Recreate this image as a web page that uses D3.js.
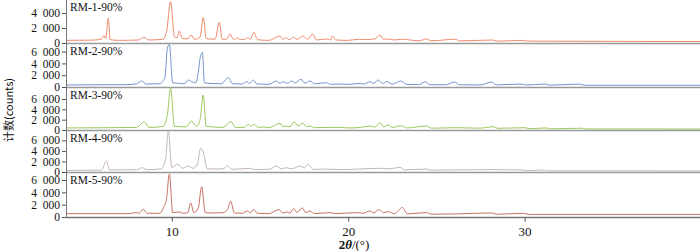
<!DOCTYPE html>
<html><head><meta charset="utf-8">
<script src="https://cdn.jsdelivr.net/npm/d3@7"></script>
<style>
html,body{margin:0;padding:0;background:#fff;}
svg{display:block;}
</style></head>
<body>
<svg id="chart" width="700" height="251"></svg>
<script>
// ---------- data ----------
const seriesNames = ["RM-1-90%","RM-2-90%","RM-3-90%","RM-4-90%","RM-5-90%"];
const xTicks = [10,20,30];
const yTicks1 = [0,2000,4000];
const yTicksN = [0,2000,4000,6000];

const rm1X = [4.0,5.5,6.0,6.15,6.25,6.4,6.5,7.0,8.1,8.42,8.7,9.5,9.7,9.93,10.15,10.3,10.42,10.6,10.9,11.09,11.3,11.6,11.78,11.95,12.16,12.45,12.69,12.85,13.1,13.3,13.5,13.7,13.9,14.1,14.28,14.45,14.66,14.85,15.5,16.13,16.3,16.45,16.65,16.89,17.1,17.45,17.7,17.98,18.2,18.78,19.0,19.1,19.3,20.0,20.6,21.0,21.5,21.8,22.0,22.27,22.6,23.0,24.0,24.45,24.7,26.1,26.3,28.2,28.4,29.2,29.8,30.2,40.0];
const rm1Y = [350,380,500,1000,600,3300,450,350,400,760,400,500,1500,5500,800,700,1600,600,550,1070,500,800,3400,600,530,500,2750,500,500,1200,450,650,450,450,700,500,1420,450,350,930,500,700,450,760,500,930,500,1200,400,530,400,930,400,350,500,450,550,1060,500,530,400,500,300,530,300,500,280,400,250,300,350,250,200];

const rm2X = [4.0,7.5,8.0,8.29,8.55,9.3,9.6,9.75,9.86,10.05,10.42,10.7,10.94,11.12,11.35,11.5,11.6,11.73,11.85,12.1,12.8,13.2,13.45,14.0,14.24,14.4,14.62,14.8,15.5,15.94,16.1,16.32,16.55,16.79,17.0,17.32,17.55,17.83,18.1,18.78,19.0,19.5,20.1,20.57,20.9,21.23,21.45,21.7,21.95,22.18,22.5,22.99,23.3,24.0,24.4,24.6,25.5,26.05,26.3,27.5,28.13,28.4,29.8,30.1,31.15,31.4,33.1,33.4,40.0];
const rm2Y = [350,400,550,1020,500,550,1500,6600,7200,700,620,550,1190,900,700,2500,4860,5880,700,620,550,1580,550,500,900,600,1190,550,450,1020,600,900,600,1020,700,1300,650,1020,550,730,450,500,450,620,500,900,600,1190,600,900,500,1020,450,400,900,400,380,850,380,350,850,350,500,330,500,320,480,300,300];

const rm3X = [4.0,8.0,8.44,8.7,9.5,9.75,9.93,10.15,10.46,10.8,11.12,11.4,11.6,11.78,11.95,12.16,12.9,13.35,13.6,14.1,14.33,14.5,14.66,14.9,15.19,15.5,16.13,16.3,16.5,16.7,16.93,17.15,17.42,17.65,17.83,18.1,18.8,19.53,20.0,20.7,21.23,21.5,21.8,22.0,22.27,22.5,23.03,23.3,24.45,24.7,26.14,27.5,28.2,28.5,30.0,30.3,31.2,31.5,33.2,33.5,40.0];
const rm3Y = [400,500,1600,500,700,3000,8200,700,640,600,1740,700,2000,6770,700,640,500,1600,500,500,1100,700,1100,500,580,450,1290,650,770,600,1600,800,1290,650,770,450,500,520,400,500,770,550,1410,600,970,500,840,400,770,350,450,350,640,330,450,250,400,220,350,200,190];

const rm4X = [4.0,6.0,6.3,6.45,8.0,8.31,8.6,9.4,9.65,9.8,10.0,10.33,10.6,10.94,11.2,11.45,11.63,11.82,12.0,12.58,12.9,13.16,13.4,14.43,14.7,15.5,15.94,16.2,16.5,16.8,17.27,17.5,17.74,18.0,18.8,19.5,20.5,21.2,21.8,22.3,22.93,23.2,24.45,24.7,26.1,28.2,29.8,30.1,31.06,31.3,40.0];
const rm4Y = [300,350,2080,400,450,810,450,600,2500,7800,900,1510,700,1130,700,1500,4470,3400,600,570,600,1130,500,690,450,500,1130,600,810,600,1130,800,1450,500,550,450,550,650,700,600,880,400,550,350,400,450,400,250,380,230,220];

const rm5X = [4.0,7.6,7.97,8.15,8.38,8.6,9.3,9.52,9.7,9.86,10.05,10.42,10.65,10.9,11.07,11.25,11.5,11.69,11.9,12.16,12.9,13.15,13.33,13.55,14.0,14.28,14.45,14.62,14.85,15.5,16.07,16.3,16.5,16.7,16.89,17.1,17.4,17.6,17.83,18.1,18.97,19.3,20.57,20.85,21.19,21.45,21.76,22.0,22.27,22.6,23.08,23.35,24.45,24.7,26.1,28.13,28.4,29.95,30.2,40.0];
const rm5Y = [550,550,720,600,1260,600,600,1470,3000,6980,700,820,600,700,2290,700,1500,4900,700,650,700,1200,2570,650,600,980,650,1210,600,550,1210,650,820,650,1370,750,1470,700,980,550,720,550,720,600,980,700,1210,700,880,550,1540,500,720,450,500,660,440,600,430,430];

const seriesX = [rm1X,rm2X,rm3X,rm4X,rm5X];
const seriesY = [rm1Y,rm2Y,rm3Y,rm4Y,rm5Y];

// ---------- layout ----------
const colors = ["#EF8A6C","#7592CD","#9CC85C","#C6B6B6","#C8705F"];
const panels = [
  {top:0,   bottom:43,  ymax:5730},
  {top:44,  bottom:87,  ymax:7290},
  {top:88,  bottom:130, ymax:8130},
  {top:131, bottom:172, ymax:7760},
  {top:173, bottom:217, ymax:7140}
];
const left = 66, right = 701;
const svg = d3.select("#chart");
const x = d3.scaleLinear().domain([4,40]).range([left,right]);
const fmt = d => d === 0 ? "0" : d3.format(",")(d).replace(",", "\u2002");
const serif = "'Liberation Serif','Times New Roman',serif";

panels.forEach((p,i) => {
  const y = d3.scaleLinear().domain([0,p.ymax]).range([p.bottom,p.top]);
  const data = seriesX[i].map((v,k)=>[v, seriesY[i][k]]);
  svg.append("path")
    .datum(data)
    .attr("fill","none")
    .attr("stroke",colors[i])
    .attr("stroke-width",1)
    .attr("stroke-linejoin","round")
    .attr("d", d3.line().x(d=>x(d[0])).y(d=>y(d[1])).curve(d3.curveMonotoneX));

  // y axis
  const ax = svg.append("g")
    .attr("transform",`translate(${left},0)`)
    .call(d3.axisLeft(y).tickValues(i===0?yTicks1:yTicksN).tickSize(4).tickFormat(fmt));
  ax.select(".domain").remove();
  ax.selectAll(".tick line").attr("stroke","#555");
  ax.selectAll(".tick text").attr("font-family",serif).attr("font-size",11.5).attr("fill","#111").attr("x",-6);

  // separator / baseline axis
  svg.append("line")
    .attr("x1",left).attr("x2",700)
    .attr("y1",p.bottom+0.5).attr("y2",p.bottom+0.5)
    .attr("stroke", i===4 ? "#777" : "#9a9a9a")
    .attr("stroke-width",1.5);

  // label
  svg.append("text")
    .attr("x",left+4).attr("y",p.top+11)
    .attr("font-family",serif).attr("font-size",11.5)
    .attr("fill","#111")
    .text(seriesNames[i]);
});

// vertical axis line
svg.append("line").attr("x1",left+0.5).attr("x2",left+0.5).attr("y1",0).attr("y2",217.5)
  .attr("stroke","#777").attr("stroke-width",1);

// x axis
const xa = svg.append("g").attr("transform","translate(0,217.5)")
  .call(d3.axisBottom(x).tickValues(xTicks).tickSize(4).tickFormat(d3.format("d")));
xa.select(".domain").remove();
xa.selectAll(".tick line").attr("stroke","#555");
xa.selectAll(".tick text").attr("font-family",serif).attr("font-size",13).attr("fill","#111").attr("dy","0.85em");

// x title
const xt = svg.append("text").attr("x",354).attr("y",249).attr("text-anchor","middle")
  .attr("font-family",serif).attr("font-size",13).attr("fill","#111");
xt.append("tspan").attr("font-weight","bold").text("2");
xt.append("tspan").attr("font-weight","bold").attr("font-style","italic").text("θ");
xt.append("tspan").text("/(°)");

// y title
svg.append("text")
  .attr("transform","translate(13,110) rotate(-90)")
  .attr("text-anchor","middle")
  .attr("font-family","'Noto Sans CJK SC','Liberation Serif',serif")
  .attr("font-size",11).attr("fill","#111")
  .text("计数(counts)");
</script>
</body></html>
